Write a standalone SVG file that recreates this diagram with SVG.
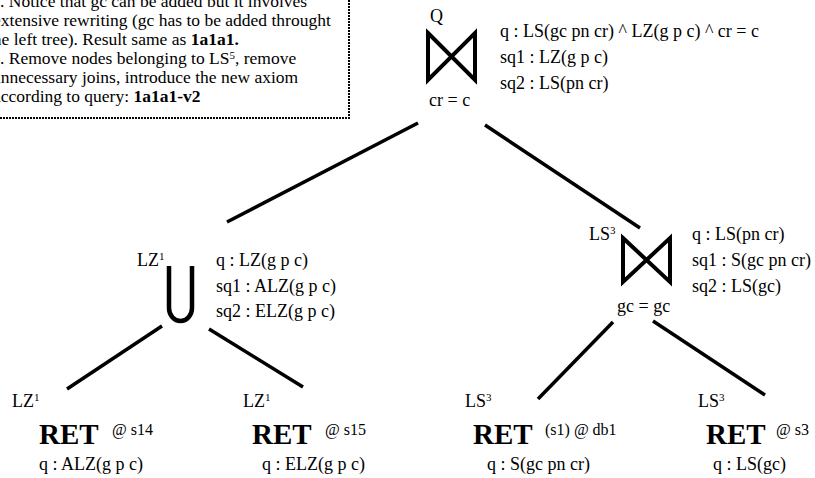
<svg xmlns="http://www.w3.org/2000/svg" width="815" height="478" viewBox="0 0 815 478">
<style>
text{font-family:"Liberation Serif","Times New Roman",serif;font-size:18px;fill:#000}
.n{font-size:17.5px}
.b{font-weight:bold}
.ret{font-weight:bold;font-size:29px}
.at{font-size:16px}
.sup{font-size:11px}
.edge{stroke:#000;stroke-width:3.5;fill:none;stroke-linecap:butt}
.op{stroke:#000;stroke-width:4;fill:none;stroke-linejoin:miter}
.cup{stroke:#000;stroke-width:4.5;fill:none}
.note{fill:none;stroke:#000;stroke-width:2;stroke-dasharray:2,1}
</style>
<g id="note">
<rect class="note" x="-10" y="-10" width="359" height="128"/>
<text class="n" x="0" y="7">. Notice that gc can be added but it involves</text>
<text class="n" x="-7" y="26">extensive rewriting (gc has to be added throught</text>
<text class="n" x="-12" y="45">the left tree). Result same as <tspan class="b">1a1a1.</tspan></text>
<text class="n" x="0" y="64">. Remove nodes belonging to LS<tspan class="sup" dy="-5">5</tspan><tspan dy="5">, remove</tspan></text>
<text class="n" x="-8" y="83">unnecessary joins, introduce the new axiom</text>
<text class="n" x="-7" y="102">according to query: <tspan class="b">1a1a1-v2</tspan></text>
</g>
<g id="edges">
<line class="edge" x1="418" y1="123" x2="227" y2="222"/>
<line class="edge" x1="485" y1="125" x2="640" y2="228"/>
<line class="edge" x1="162" y1="326" x2="67" y2="389"/>
<line class="edge" x1="209" y1="329" x2="303" y2="387"/>
<line class="edge" x1="613" y1="322" x2="538" y2="399"/>
<line class="edge" x1="653" y1="321" x2="765" y2="395"/>
</g>
<g id="root">
<text x="430" y="22">Q</text>
<path class="op" d="M428,33 L475,80 L475,33 L428,80 Z"/>
<text x="429" y="106">cr = c</text>
<text x="500" y="37">q : LS(gc pn cr) ^ LZ(g p c) ^ cr = c</text>
<text x="500" y="63">sq1 : LZ(g p c)</text>
<text x="500" y="89">sq2 : LS(pn cr)</text>
</g>
<g id="union">
<text x="137" y="266">LZ<tspan class="sup" dy="-6">1</tspan></text>
<path class="cup" d="M169,266 V308 A11.5,13 0 0 0 192,308 V266"/>
<text x="216" y="266">q : LZ(g p c)</text>
<text x="216" y="292">sq1 : ALZ(g p c)</text>
<text x="216" y="317">sq2 : ELZ(g p c)</text>
</g>
<g id="join2">
<text x="589" y="240">LS<tspan class="sup" dy="-6">3</tspan></text>
<path class="op" d="M623,238 L670,282 L670,238 L623,282 Z"/>
<text x="617" y="312">gc = gc</text>
<text x="692" y="240">q : LS(pn cr)</text>
<text x="692" y="266">sq1 : S(gc pn cr)</text>
<text x="692" y="292">sq2 : LS(gc)</text>
</g>
<g id="ret1">
<text x="12" y="407">LZ<tspan class="sup" dy="-6">1</tspan></text>
<text class="ret" x="39" y="444">RET</text>
<text class="at" x="112" y="435">@ s14</text>
<text x="39" y="470">q : ALZ(g p c)</text>
</g>
<g id="ret2">
<text x="243" y="407">LZ<tspan class="sup" dy="-6">1</tspan></text>
<text class="ret" x="252" y="444">RET</text>
<text class="at" x="325" y="435">@ s15</text>
<text x="262" y="470">q : ELZ(g p c)</text>
</g>
<g id="ret3">
<text x="465" y="407">LS<tspan class="sup" dy="-6">3</tspan></text>
<text class="ret" x="473" y="444">RET</text>
<text class="at" x="545" y="435">(s1) @ db1</text>
<text x="487" y="470">q : S(gc pn cr)</text>
</g>
<g id="ret4">
<text x="698" y="407">LS<tspan class="sup" dy="-6">3</tspan></text>
<text class="ret" x="706" y="444">RET</text>
<text class="at" x="776" y="435">@ s3</text>
<text x="713" y="470">q : LS(gc)</text>
</g>
</svg>
